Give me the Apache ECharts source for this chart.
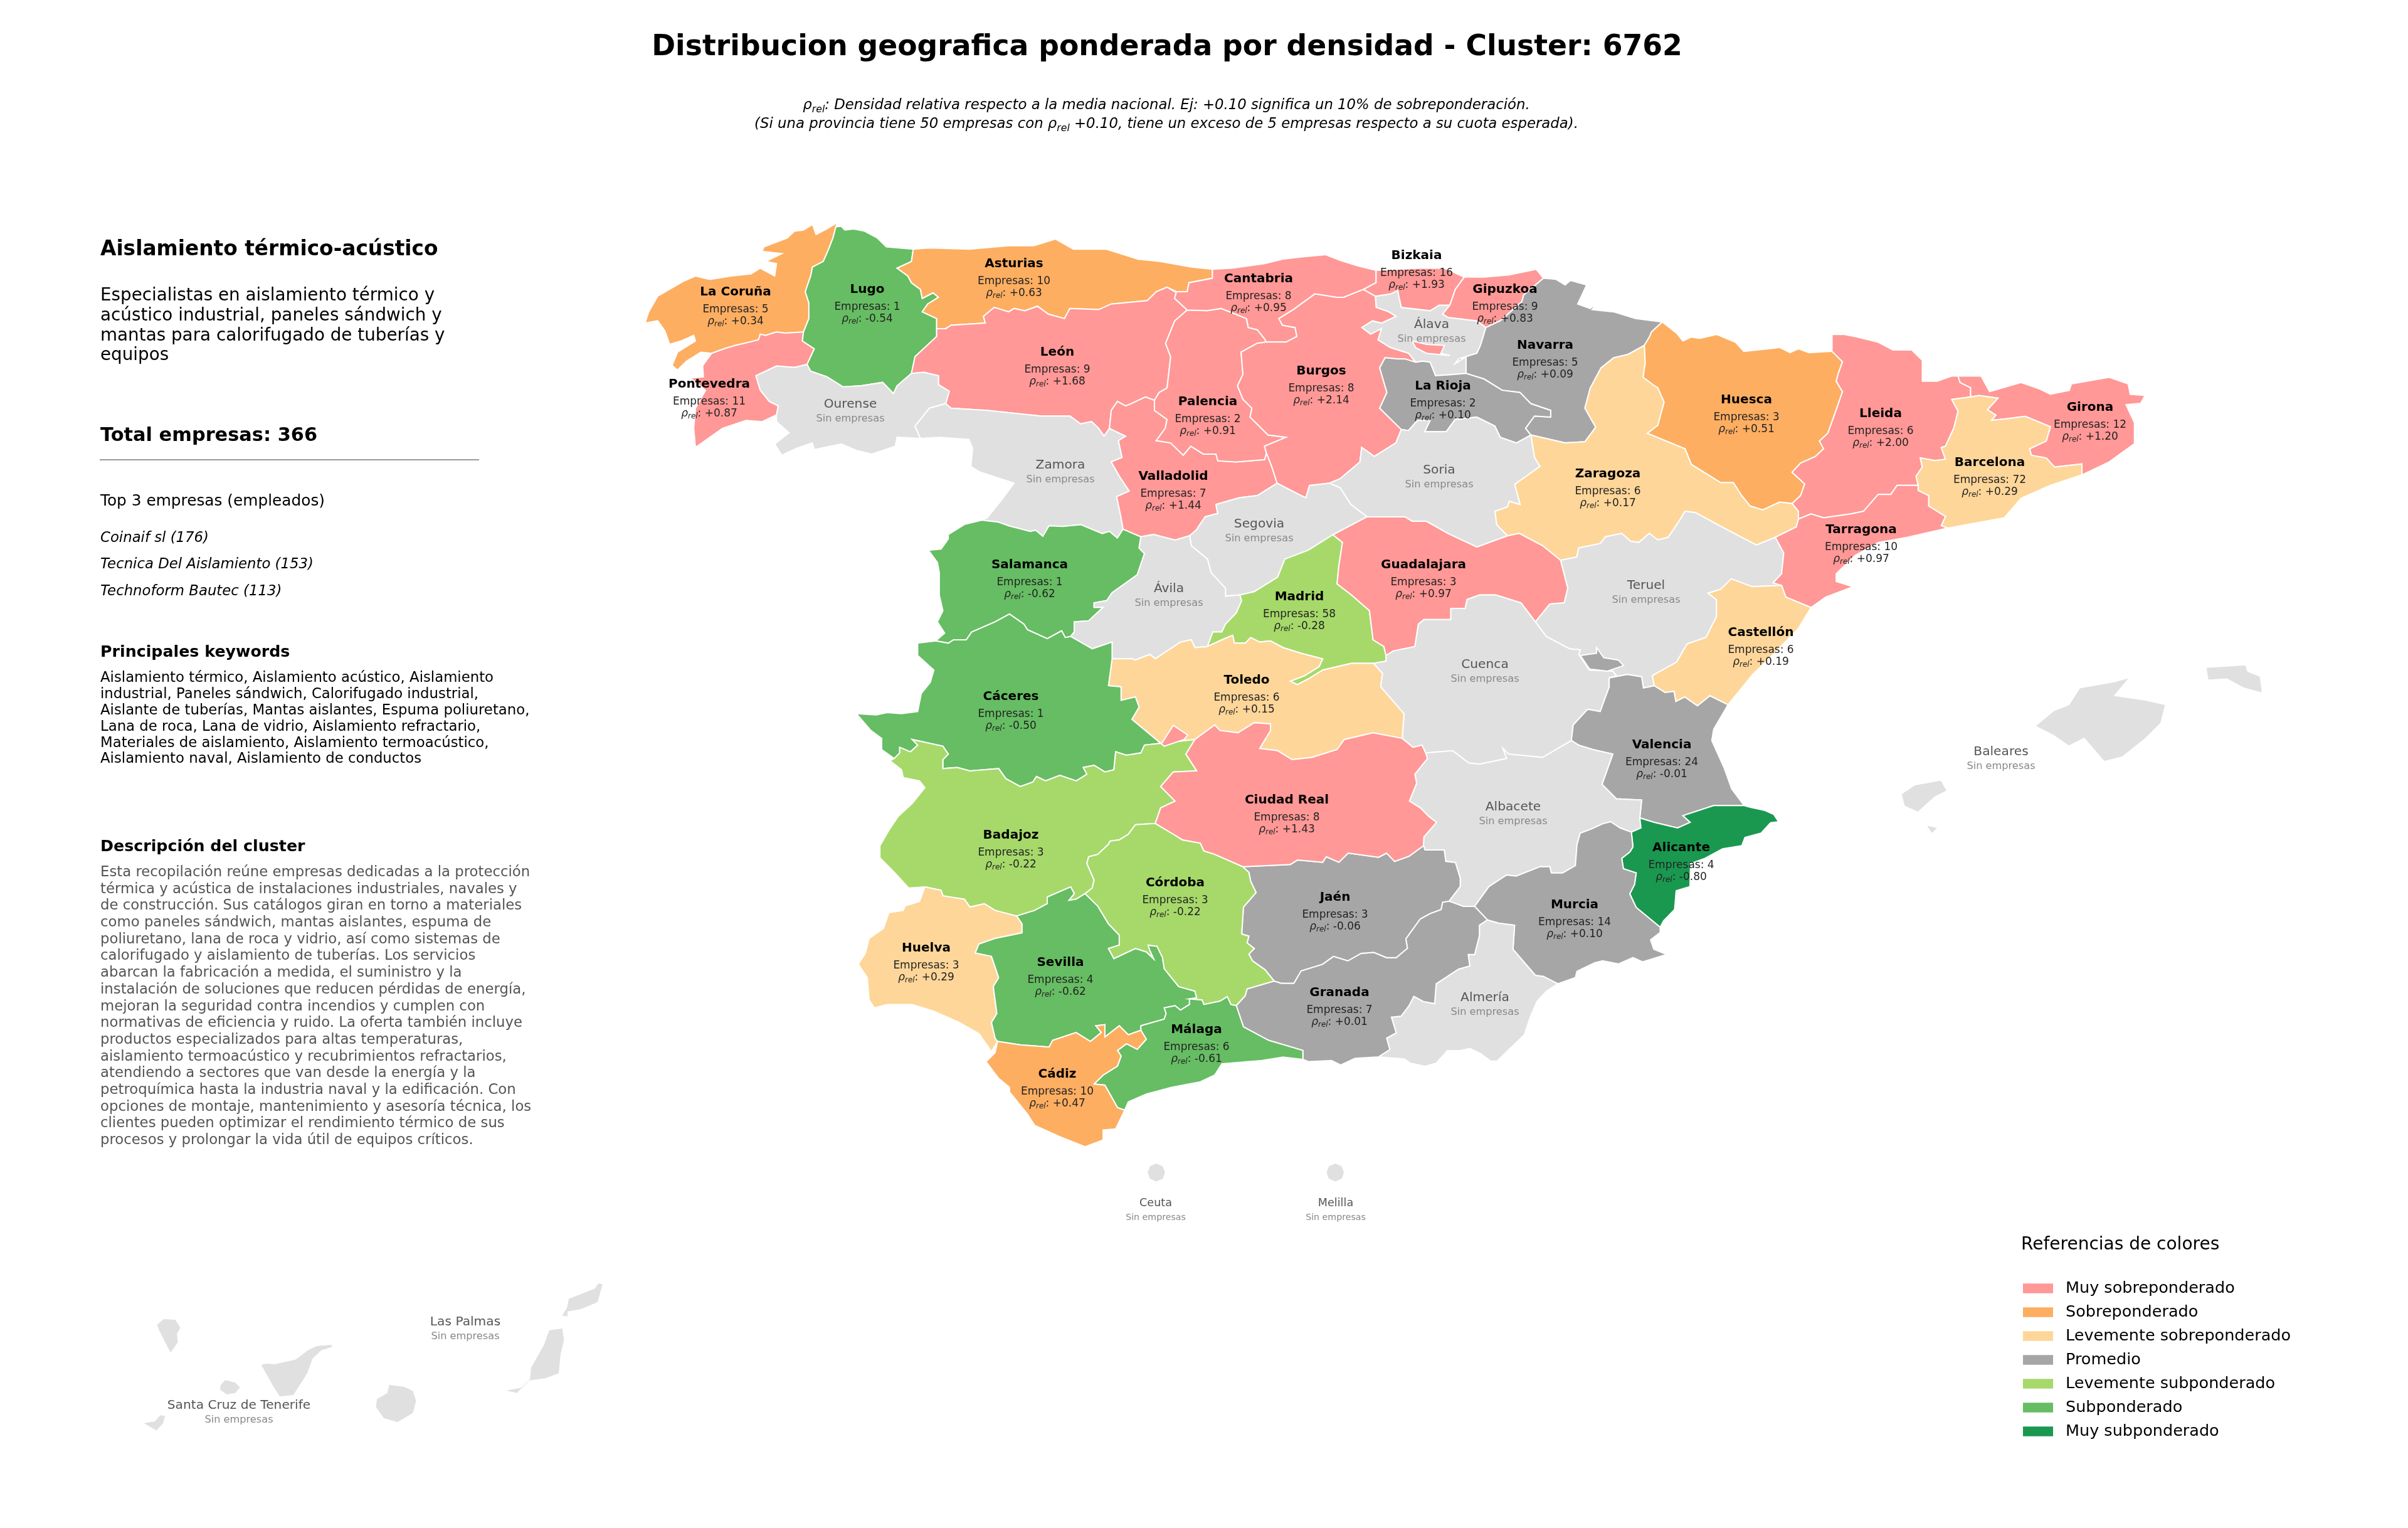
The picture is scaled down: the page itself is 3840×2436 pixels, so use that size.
<!DOCTYPE html>
<html><head><meta charset="utf-8">
<style>html,body{margin:0;padding:0;background:#fff}#c{width:3840px;height:2436px}</style>
<script src="https://cdn.jsdelivr.net/npm/echarts@6/dist/echarts.min.js"></script>
</head><body><div id="c"></div>
<script>
// ---------- DATA ----------
const provincias = ['La Coruña','Lugo','Asturias','Pontevedra','León','Cantabria','Bizkaia','Gipuzkoa','Navarra','Palencia','La Rioja','Huesca','Lleida','Girona','Barcelona','Zaragoza','Valladolid','Tarragona','Castellón','Salamanca','Madrid','Guadalajara','Cáceres','Toledo','Badajoz','Córdoba','Jaén','Huelva','Sevilla','Alicante','Murcia','Granada','Málaga','Cádiz','Ciudad Real','Valencia','Burgos'];
const empresas   = [5,1,10,11,9,8,16,9,5,2,2,3,6,12,72,6,7,10,6,1,58,3,1,6,3,3,3,3,4,4,14,7,6,10,8,24,8];
const rhoRel     = [0.34,-0.54,0.63,0.87,1.68,0.95,1.93,0.83,0.09,0.91,0.10,0.51,2.00,1.20,0.29,0.17,1.44,0.97,0.19,-0.62,-0.28,0.97,-0.50,0.15,-0.22,-0.22,-0.06,0.29,-0.62,-0.80,0.10,0.01,-0.61,0.47,1.43,-0.01,2.14];
const sinEmpresas = ['Ourense','Zamora','Segovia','Soria','Álava','Ávila','Teruel','Cuenca','Albacete','Almería','Baleares','Ceuta','Melilla','Las Palmas','Santa Cruz de Tenerife'];
const categorias = ['Muy subponderado','Subponderado','Levemente subponderado','Promedio','Levemente sobreponderado','Sobreponderado','Muy sobreponderado'];
const coloresCategoria = ['#1a9850','#66bd63','#a6d96a','#a6a6a6','#fed699','#fdae61','#ff9896'];
const tituloPrincipal = 'Distribucion geografica ponderada por densidad - Cluster: 6762';
const clusterNombre = 'Aislamiento térmico-acústico';
const clusterResumen = ['Especialistas en aislamiento térmico y','acústico industrial, paneles sándwich y','mantas para calorifugado de tuberías y','equipos'];
const totalTexto = 'Total empresas: 366';
const topEmpresas = ['Coinaif sl (176)','Tecnica Del Aislamiento (153)','Technoform Bautec (113)'];
const keywords = ['Aislamiento térmico, Aislamiento acústico, Aislamiento','industrial, Paneles sándwich, Calorifugado industrial,','Aislante de tuberías, Mantas aislantes, Espuma poliuretano,','Lana de roca, Lana de vidrio, Aislamiento refractario,','Materiales de aislamiento, Aislamiento termoacústico,','Aislamiento naval, Aislamiento de conductos'];
const descripcion = ['Esta recopilación reúne empresas dedicadas a la protección','térmica y acústica de instalaciones industriales, navales y','de construcción. Sus catálogos giran en torno a materiales','como paneles sándwich, mantas aislantes, espuma de','poliuretano, lana de roca y vidrio, así como sistemas de','calorifugado y aislamiento de tuberías. Los servicios','abarcan la fabricación a medida, el suministro y la','instalación de soluciones que reducen pérdidas de energía,','mejoran la seguridad contra incendios y cumplen con','normativas de eficiencia y ruido. La oferta también incluye','productos especializados para altas temperaturas,','aislamiento termoacústico y recubrimientos refractarios,','atendiendo a sectores que van desde la energía y la','petroquímica hasta la industria naval y la edificación. Con','opciones de montaje, mantenimiento y asesoría técnica, los','clientes pueden optimizar el rendimiento térmico de sus','procesos y prolongar la vida útil de equipos críticos.'];

// ---------- MAP GEOMETRY (base map outlines, traced in tracing frames) ----------
const FRAMES = {1:[1000,340,1.742,2.8],2:[1850,340,1.742,2.8],3:[2600,500,1.493,2.412],4:[1340,820,1.742,2.8],5:[2150,820,1.742,2.8],6:[1340,1330,1.742,2.8],7:[2150,1250,1.96,3],8:[140,2020,1.782,3],9:[0,0,0.4077,0.4077]};
const ARCS = {
LC_LU:[1,[580,60,572,110,560,160,545,215,515,240,510,280,495,350,505,400,505,470,490,530]],
LC_PO:[1,[490,530,440,535,415,530,385,545,370,540,365,565,340,575,300,590,270,605,235,625]],
LC_C:[1,[235,625,205,620,165,660,140,700,125,680,140,620,190,570,185,545,150,570,118,585,105,525,85,480,50,490,60,440,85,370,155,305,190,280,230,295,290,280,345,270,370,245,410,280,415,225,385,215,430,180,375,170,380,150,445,110,465,80,490,75,515,50,525,95,555,70,585,40,580,60]],
PO_C:[1,[235,625,210,680,212,730,175,735,218,790,190,870,185,960,190,1045,265,960,330,925,375,930,415,900]],
PO_OU:[1,[415,900,420,860,395,840,370,790,358,725,415,682,465,688,500,675]],
PO_LU:[1,[500,675,520,605,487,570,490,530]],
LU_OU:[1,[500,675,510,705,555,730,600,775,650,770,710,755,740,805,750,770,790,715]],
LU_LE:[1,[790,715,800,640,860,550,860,515]],
LU_AS:[1,[860,515,860,470,820,440,835,405,865,375,850,355,820,380,815,340,790,310,780,280,750,245,790,215,795,160]],
LU_C:[1,[795,160,720,150,695,110,660,80,630,70,605,75,595,58,580,60]],
AS_C:[1,[795,160,840,155,950,160,1060,145,1130,145,1190,115,1240,160,1330,160,1380,185,1420,205,1480,215,1568,240,1626,250]],
AS_CA:[1,[1626,250,1626,290,1561,310,1556,350,1521,350,1500,330]],
AS_LE:[1,[1500,330,1470,350,1445,390,1345,405,1310,430,1230,425,1215,470,1170,450,1140,415,1105,435,1075,425,1060,440,1020,420,990,460,995,490,900,500,885,515,860,515]],
LE_CA:[1,[1500,330,1526,350,1521,380,1556,432]],
LE_PA:[1,[1556,432,1521,481,1496,581,1510,640,1500,780,1478,800,1465,835]],
LE_VA:[1,[1465,835,1440,820,1400,850,1385,860,1362,840,1345,880,1340,960]],
LE_ZA:[1,[1340,960,1325,995,1310,960,1290,930,1260,940,1230,905,1150,905,1090,895,1000,880,900,870,885,850]],
LE_OU:[1,[885,850,895,795,865,765,865,725,825,710,790,715]],
OU_ZA:[1,[815,1005,800,950,810,930,840,870,885,850]],
OU_S:[1,[415,900,415,930,450,980,410,1030,430,1080,470,1050,515,1025,520,1055,595,1030,640,1060,680,1075,745,1040,750,1000,815,1005]],
ZA_W:[1,[815,1005,870,1000,950,1010,960,1050,955,1130,980,1155,1075,1205,1040,1280,1000,1360,985,1370]],
ZA_SA:[1,[985,1370,1030,1378,1060,1395,1120,1420,1135,1415,1155,1442,1172,1395,1210,1398,1260,1390,1305,1420,1320,1430,1340,1420,1362,1450,1378,1410]],
ZA_VA:[1,[1378,1410,1370,1340,1360,1265,1395,1240,1370,1180,1345,1110,1375,1090,1365,1015,1385,995,1340,960]],
VA_PA:[1,[1465,835,1465,880,1500,920,1495,960,1470,1015,1510,1025,1545,1080,1566,1040,1601,1075,1636,1075,1641,1105,1691,1110,1771,1100,1776,1070]],
VA_BU:[2,[295,1070,310,1130,325,1205]],
VA_SG:[2,[325,1205,270,1260,220,1270,155,1300,160,1340,125,1355,100,1415,82,1439]],
VA_AV:[4,[970,95,930,115,870,90,835,100]],
SA_VA:[4,[786,66,835,100]],
PA_CA:[2,[75,432,130,435,170,425,240,470,245,510,270,520,290,560,295,575]],
PA_BU:[2,[295,575,270,580,225,620,230,720,215,770,230,830,255,870,250,910,300,990,350,1000,290,1040,295,1070]],
CA_C:[2,[145,250,200,245,290,225,340,205,390,195,460,185,500,210,550,235,600,255]],
CA_BI:[2,[600,255,600,310,565,340]],
CA_BU:[2,[565,340,510,375,490,375,430,360,370,430,330,470,340,500,375,510,380,550,350,575,295,575]],
BU_BI:[2,[565,340,598,370]],
BU_AL:[2,[598,370,600,420,635,440,655,460,615,490,590,480,560,510,585,540,615,515,605,565,640,600,690,625,710,665]],
AL_BI:[2,[598,370,640,360,660,345,670,420,750,435,775,410,805,410]],
AL_GI:[2,[805,410,785,450,800,465,880,480,905,510]],
AL_NA:[2,[905,510,890,590,880,625,830,650,820,670,850,640,850,715]],
BI_C:[2,[600,255,660,250,720,245,790,245,845,285]],
BI_GI:[2,[845,285,820,340,805,410]],
GU_C:[2,[845,285,900,285,970,275,1045,250,1065,290]],
GU_NA:[2,[1065,290,1010,365,1005,395,945,480,905,510]],
NA_N:[2,[1065,290,1100,295,1125,320,1140,300,1185,320,1160,405,1195,425,1215,395,1200,430,1260,440,1320,470,1395,485]],
NA_HU:[2,[1395,485,1365,530,1360,550,1345,590]],
NA_ZA:[2,[1345,590,1300,630,1260,645,1225,690,1195,780,1180,870,1210,955,1180,1020,1125,1025,1030,990]],
NA_RI:[2,[1030,990,1015,960,1040,905,1085,910,1085,880,1030,850,1000,800,950,790,900,740,850,715]],
RI_BU:[2,[670,965,610,870,630,800,610,690,625,645,660,650,680,650,710,665]],
RI_AL:[2,[710,665,730,660,750,665,765,725,810,720,850,715]],
RI_SO:[2,[1030,990,990,1025,945,1000,930,950,880,910,820,920,795,975,735,975,750,925,715,925,690,970,670,965]],
BU_SO:[2,[670,965,655,1025,595,1085,560,1045,555,1110,500,1185,470,1205]],
BU_SG:[2,[470,1205,415,1215,405,1270,385,1255,325,1205]],
SO_ZG:[2,[1030,990,1040,1090,1055,1130,985,1210,1000,1300,970,1285,965,1310,930,1330,935,1390,965,1440]],
SO_GU:[2,[965,1440,880,1490,800,1430,740,1375,700,1375,680,1355,575,1355]],
SO_SG:[2,[575,1355,530,1300,500,1225,470,1205]],
SG_GU:[2,[575,1355,480,1435]],
SG_MA:[4,[1368,91,1300,160,1235,200,1215,280,1150,345,1110,360]],
SG_AV:[4,[1110,360,1070,365,1070,330,1030,260,1020,200,975,140,970,95]],
AV_MA:[4,[1110,360,1115,385,1100,440,1070,490,1060,525,1035,525,1020,590]],
AV_TO:[4,[1020,590,985,595,975,560,945,570,875,645,860,625,820,650,810,645,755,645]],
AV_CC:[4,[755,645,755,570,700,600,640,545]],
SA_AV:[4,[835,100,830,150,845,175,825,270,755,350,740,385,705,395,705,415,730,415,690,475,650,480,650,525,640,545]],
CC_SA:[4,[265,565,300,575,315,560,350,560,365,525,430,480,470,445,510,490,520,515,575,555,615,520,625,550,640,545]],
SA_W:[4,[265,565,290,530,270,480,285,430,275,360,275,260,270,215,245,160,280,155,300,110,300,90,345,45,393,26]],
MA_GU:[4,[1368,91,1395,125,1385,230,1380,310,1420,360,1470,430,1480,560,1510,590,1516,630]],
MA_CU:[4,[1516,630,1516,655,1481,665]],
TO_MA:[4,[1020,590,1060,560,1090,540,1095,575,1125,575,1140,550,1165,570,1195,565,1230,595,1280,620,1340,645,1330,680,1290,720,1250,745,1270,760,1300,735,1340,695,1420,665,1481,665]],
GU_CU:[5,[520,480,480,395,410,360,365,360,330,380,325,420,285,420,285,470,210,470,195,490,185,590,125,610,105,630]],
GU_TE:[5,[590,205,610,330,600,395,560,400,520,480]],
ZG_GU:[5,[590,205,540,140,475,85,442,96]],
ZG_TE:[3,[345,860,300,890,235,835,200,805,155,765,130,760,115,800,90,860,65,870,45,845,20,880,0,875],5,[760,85,715,100,700,130,640,150,635,190,590,205]],
ZG_LL:[3,[385,730,400,760,400,790]],
ZG_TA:[3,[400,790,395,820,345,860]],
TE_TA:[3,[345,860,365,920,360,1000,340,1035,360,1045]],
TE_CS:[3,[360,1045,290,1050,240,1020,215,1060,185,1075,205,1100,205,1165,180,1245,135,1270,110,1340],5,[845,720,850,765]],
TE_VA:[5,[850,765,820,775,815,725,775,715,725,730]],
CS_VA:[5,[1055,850,1005,810,970,855,935,815,910,835,905,790,880,795,850,765]],
TE_CU:[5,[725,730,745,720,735,700,670,695,640,625,645,605,615,600,550,545,520,480]],
CU_VC:[5,[725,730,725,770,700,880,665,870,625,940,620,1010]],
CU_TO:[5,[70,665,95,710,90,770,155,890,150,1000]],
CU_CR:[5,[150,1000,180,1040,205,1030,215,1065]],
CU_AB:[5,[215,1065,290,1055,335,1110,365,1115,440,1090,430,1045,445,1070,540,1085,620,1010]],
VC_C:[5,[1055,850,1015,960,1010,1010,1045,1135,1065,1225,1100,1300]],
VC_AC:[5,[1100,1300,1015,1300,930,1345,950,1375,915,1400,850,1375,810,1355]],
VC_AB:[5,[810,1355,815,1275,745,1270,705,1205,735,1070,680,1050,640,1030,620,1010]],
AB_CR:[5,[215,1065,220,1090,185,1160,190,1200,170,1280,200,1310,225,1350,245,1375,210,1440,209,1479]],
AB_JA:[7,[235,295,240,315,300,315,305,370,335,375,350,450,350,490,315,560]],
AB_GR:[7,[315,560,360,585,395,585]],
AB_MU:[7,[395,585,440,490,495,435,525,440,600,395,630,395,635,425,670,425,710,390,715,290,725,235,760,215,795,190,820,180,850,210,885,230]],
AB_AC:[7,[885,230,915,210,910,165]],
AC_MU:[7,[885,230,890,300,880,325,855,355,860,405,900,425,895,480,880,525,900,590,975,685]],
AC_C:[7,[975,685,985,655,1020,600,1025,510,1068,490,1070,380,1115,355,1170,310,1230,295,1240,255,1290,235,1320,185,1345,180,1330,145,1300,125,1255,110,1240,100]],
MU_GR:[7,[395,585,435,650]],
MU_AL:[7,[435,650,470,665,520,675,515,790,585,915,610,920,655,955]],
MU_C:[7,[655,955,710,925,715,895,770,855,795,845,845,860,890,830,920,850,995,815,955,790,945,745,975,710,975,685]],
GR_AM:[7,[94,1305,130,1270,120,1215,150,1190,135,1115,165,1110,190,1060,205,1015,235,1040,270,1050,275,955,345,885,380,870,375,815,395,815,410,725,410,675,435,650]],
AM_C:[7,[94,1305,175,1315,195,1335,240,1350,275,1335,310,1275,350,1275,380,1265,415,1290,445,1325,465,1325,495,1280,550,1200,570,1110,590,1040,620,990,655,955]],
JA_CR:[7,[235,295,190,345,145,370,120,330,95,350,0,330],6,[1385,125,1350,100,1340,125,1270,115,1250,135,1118,145]],
JA_CO:[6,[1118,145,1135,170,1140,210,1155,260,1120,325,1115,445,1135,455,1130,485,1150,510,1135,535,1145,565,1180,605,1205,655]],
JA_GR:[6,[1205,655,1225,665,1260,665,1280,610,1340,580,1370,545,1410,565],7,[40,810,80,805,120,830,150,830,185,785,180,740,225,645,255,620,290,600,295,565,315,560]],
CO_GR:[6,[1100,765,1125,720,1130,690,1205,655]],
CO_MG:[6,[970,735,1005,740,1010,760,1055,745,1075,725,1085,760,1100,765]],
GR_MG:[6,[1100,765,1120,860,1190,920,1285,965,1285,1005]],
GR_C:[6,[1285,1005,1300,1015,1365,1010,1390,1030,1430,1000,1495,995]],
MG_C:[6,[1285,1005,1230,995,1170,1010,1060,1025,1040,1075,1000,1105,920,1130,850,1160,800,1195,790,1232]],
CD_C:[6,[437,925,430,975,405,1015,440,1090,470,1130,470,1150,520,1250,540,1300,610,1350,680,1395,730,1365,730,1320,765,1315,790,1232]],
CD_MG:[6,[790,1232,770,1220,735,1120,705,1115,730,1075,770,1035,780,990,770,965,795,935,825,960,850,915,835,875]],
SE_CA:[6,[437,925,500,940,580,950,590,920,655,885,695,925,725,885,710,855,735,850,735,905,775,855,800,895,835,875]],
SE_MG:[6,[835,875,835,855,900,825,905,800,900,775,930,765,945,785,970,760,970,735]],
CO_SE:[6,[680,265,715,320,745,400,775,450,775,495,745,510,760,555,820,510,850,525,870,555,860,520,855,495,880,500,895,550,900,600,940,680,985,700,990,730,970,735]],
SE_HV:[6,[490,365,505,400,505,440,475,450,430,465,385,490,375,530,420,545,440,640,425,680,435,800,420,840,430,910,437,925]],
HV_C:[6,[235,235,220,300,180,320,175,340,135,350,120,420,80,465,70,530,50,580,75,640,80,740,95,775,130,760,200,760,260,790,330,840,385,890,420,970,437,925]],
BA_HU:[6,[235,235,280,250,285,275,345,290,360,325,400,310,430,340,490,365]],
BA_SE:[6,[490,365,540,340,575,310,575,280,640,235,650,265,635,295,655,290,680,265]],
BA_CO:[6,[680,265,700,240,705,205,685,130,690,100,715,90,745,45,750,30,775,25,800,0],4,[820,1385,875,1380]],
CO_CR:[4,[875,1380,925,1428],6,[950,25,1000,40,1010,75,1040,90,1118,145]],
BA_CR:[4,[985,1005,960,1070,990,1145,925,1150,890,1215,930,1280,890,1310,875,1380]],
TO_CR:[4,[985,1005,1040,940,1055,965,1105,975,1150,930,1195,935,1195,965,1165,1045,1215,1055,1255,1095,1310,1085,1380,1050,1400,1005,1480,975,1561,1000]],
BA_TO:[4,[985,1005,890,1022]],
CC_TO:[4,[755,645,745,765,780,770,780,830,820,815,830,860,810,915,890,1022]],
BA_CC:[4,[890,1022,845,1030,835,1065,795,1075,765,1060,760,1140,735,1150,705,1120,675,1130,685,1160,655,1190,610,1165,570,1190,545,1170,535,1195,500,1215,460,1180,440,1135,360,1145,325,1130,285,1135,285,1095,300,1070,285,1035,200,1005,215,1030,195,1060,165,1040,165,1065,150,1090]],
CC_W:[4,[150,1090,115,1050,115,1000,85,965,45,890,100,895,130,885,170,890,215,880,225,800,250,750,260,695,215,630,215,575,265,565]],
BA_W:[4,[150,1090,138,1100,170,1140,175,1175,220,1190,235,1220,200,1290,160,1350,135,1410,110,1480],6,[110,105,150,170,190,240,235,235]],
HU_N:[3,[76,31,110,75,125,105,145,90,165,95,205,80,250,110,270,145,330,135,355,130,380,150,400,135,425,150,480,145]],
HU_LL:[3,[480,145,505,185,495,230,490,260,505,300,490,370,470,460,450,490,460,520,440,550,405,575,385,610,415,655,405,700,385,730]],
HU_ZA:[3,[385,730,355,725,315,755,285,740,265,700,245,650,215,650,145,580,130,520,40,460,65,430,80,340,65,285,55,275,30,245,35,190,33,123]],
LL_N:[3,[480,145,480,80,510,80,540,90,590,110,625,140,670,140,695,180,695,260,730,260,765,240,780,240]],
LL_GI:[3,[780,240,785,265,810,285,810,320]],
LL_BA:[3,[810,320,765,330,780,375,770,440,750,510,740,515,750,560,725,565,690,555,695,590,680,625,685,660]],
LL_TA:[3,[685,660,635,660,620,695,590,695,555,760,525,770,460,785,430,770,400,790]],
GI_N:[3,[780,240,835,240,855,300,930,265,975,290,1000,310,1045,295,1050,270,1140,245,1185,270,1190,310,1225,315,1215,345,1180,350,1200,420,1200,500,1140,570,1075,620]],
GI_BA:[3,[1075,620,1075,578,1010,590,990,555,955,545,950,520,990,490,1000,435,940,395,890,405,860,410,870,390,850,370,875,325,830,315,810,320]],
BA_C:[3,[1075,620,1000,660,930,710,890,785,755,825]],
TA_BA:[3,[685,660,685,680,710,700,710,740,750,780,740,815,755,825]],
TA_C:[3,[755,825,660,860,590,880,535,930,490,1000,490,1030,530,1050,465,1090,430,1130]],
TA_CS:[3,[430,1130,370,1090,360,1045]],
CS_C:[3,[430,1130,400,1210,340,1310,290,1390,230,1505]]
};
const RINGS = {
'La Coruña':['LC_LU','LC_PO','LC_C'],
'Pontevedra':['LC_PO','PO_C','PO_OU','PO_LU'],
'Lugo':['LC_LU','-PO_LU','LU_OU','LU_LE','LU_AS','LU_C'],
'Asturias':['LU_AS','AS_C','AS_CA','AS_LE'],
'León':['LE_CA','LE_PA','LE_VA','LE_ZA','LE_OU','LU_LE','-AS_LE'],
'Ourense':['-PO_OU','OU_S','OU_ZA','LE_OU','-LU_OU'],
'Zamora':['-OU_ZA','ZA_W','ZA_SA','ZA_VA','LE_ZA'],
'Salamanca':['SA_W','ZA_SA','SA_VA','SA_AV','-CC_SA'],
'Valladolid':['-LE_VA','VA_PA','VA_BU','VA_SG','VA_AV','-SA_VA','ZA_VA'],
'Palencia':['-LE_PA','PA_CA','PA_BU','-VA_PA'],
'Cantabria':['-AS_CA','CA_C','CA_BI','CA_BU','-PA_CA','-LE_CA'],
'Álava':['AL_BI','AL_GI','AL_NA','-RI_AL','-BU_AL'],
'Burgos':['-CA_BU','BU_BI','BU_AL','-RI_BU','BU_SO','BU_SG','-VA_BU','-PA_BU'],
'Bizkaia':['-CA_BI','BI_C','BI_GI','-AL_BI','-BU_BI'],
'Gipuzkoa':['GU_C','GU_NA','-AL_GI','-BI_GI'],
'Navarra':['-GU_NA','NA_N','NA_HU','NA_ZA','NA_RI','-AL_NA'],
'La Rioja':['RI_BU','RI_AL','-NA_RI','RI_SO'],
'Huesca':['HU_N','HU_LL','HU_ZA','-NA_HU'],
'Zaragoza':['-NA_ZA','-HU_ZA','ZG_LL','ZG_TA','ZG_TE','ZG_GU','-SO_GU_Z'],
'Soria':['-RI_SO','SO_ZG','SO_GU','SO_SG','-BU_SO'],
'Segovia':['-VA_SG','-BU_SG','-SO_SG','SG_GU','SG_MA','SG_AV'],
'Ávila':['-VA_AV','-SG_AV','AV_MA','AV_TO','AV_CC','-SA_AV'],
'Madrid':['-SG_MA','MA_GU','MA_CU','-TO_MA','-AV_MA'],
'Guadalajara':['-SG_GU','-SO_GU','-ZG_GU','GU_TE','GU_CU','-MA_GU'],
'Teruel':['-GU_TE','-ZG_TE','TE_TA','TE_CS','TE_VA','TE_CU'],
'Lleida':['LL_N','LL_GI','LL_BA','LL_TA','-ZG_LL','-HU_LL'],
'Girona':['GI_N','GI_BA','-LL_GI'],
'Barcelona':['-GI_BA','BA_C','-TA_BA','-LL_BA'],
'Tarragona':['-LL_TA','TA_BA','TA_C','TA_CS','-TE_TA','-ZG_TA'],
'Castellón':['-TA_CS','CS_C','CS_VA','-TE_CS'],
'Cuenca':['TE_CU','GU_CU','MA_CU','CU_TO','CU_CR','CU_AB','-CU_VC'],
'Valencia':['-TE_VA','-CS_VA','VC_C','VC_AC','VC_AB','-CU_VC'],
'Albacete':['-CU_AB','AB_CR','AB_JA','AB_GR','AB_MU','AB_AC','VC_AB'],
'Alicante':['-AB_AC','AC_MU','AC_C','VC_AC'],
'Murcia':['-AB_MU','MU_GR','MU_AL','MU_C','-AC_MU'],
'Almería':['-MU_AL','-GR_AM','AM_C'],
'Granada':['-AB_GR','-JA_GR','-CO_GR','GR_MG','GR_C','GR_AM','-MU_GR'],
'Jaén':['-AB_JA','JA_CR','JA_CO','JA_GR'],
'Toledo':['TO_MA','CU_TO','-TO_CR','BA_TO','-CC_TO','-AV_TO'],
'Cáceres':['CC_W','CC_SA','-AV_CC','CC_TO','BA_CC'],
'Badajoz':['BA_TO','BA_CC','BA_W','BA_HU','BA_SE','BA_CO','-BA_CR'],
'Ciudad Real':['-AB_CR','-CU_CR','-TO_CR','BA_CR','CO_CR','-JA_CR'],
'Huelva':['-BA_HU','HV_C','-SE_HV'],
'Sevilla':['SE_HV','SE_CA','SE_MG','-CO_SE','-BA_SE'],
'Córdoba':['BA_CO','CO_CR','JA_CO','-CO_GR','-CO_MG','-CO_SE'],
'Málaga':['CO_MG','GR_MG','MG_C','CD_MG','SE_MG'],
'Cádiz':['CD_C','CD_MG','-SE_CA']
};
ARCS.SO_GU_Z = ARCS.SO_ZG;
const EXTRA = {
'Burgos':[[2,[700,570,740,585,790,590,780,625,805,635,740,625,710,600]]],
'Valencia':[[5,[645,630,690,620,690,595,710,640,750,650,765,675,720,700,670,690]]],
'Ciudad Real':[[4,[892,1025,925,942,965,985,955,1005,900,1035]]]
};
const ISLANDS = {
'Baleares':[[9,[1323,472,1335,462,1345,458,1352,447,1375,443,1385,440,1375,452,1395,455,1408,458,1405,470,1395,480,1380,492,1368,495,1355,480,1345,485,1335,478]],[3,[1370,1360,1420,1355,1465,1350,1470,1375,1500,1395,1505,1460,1460,1440,1420,1405,1375,1410]],[9,[1236,516,1245,510,1262,507,1266,514,1258,518,1247,528,1238,524]],[9,[1252,536,1260,538,1256,542]]],
'Ceuta':[[6,[852,1510,859,1480,878,1467,897,1480,904,1510,897,1540,878,1553,859,1540]]],
'Melilla':[[6,[1349,1510,1356,1480,1375,1467,1394,1480,1401,1510,1394,1540,1375,1553,1356,1540]]],
'Santa Cruz de Tenerife':[[8,[195,275,215,245,250,250,265,290,255,320,258,360,235,415,215,350,200,300]],[8,[155,745,190,735,205,705,222,710,215,750,195,785,175,765]],[8,[375,565,390,537,420,550,435,575,420,605,395,612,375,590]],[8,[490,465,510,458,530,462,590,440,625,395,650,375,695,368,695,385,665,400,640,440,625,510,585,615,545,622,525,570,505,510]]],
'Las Palmas':[[8,[855,560,900,570,925,590,935,640,925,700,880,745,840,725,817,670,820,630,850,600]],[8,[1310,300,1350,290,1355,350,1345,420,1340,510,1300,535,1255,545,1220,605,1180,590,1230,575,1255,535,1258,480,1275,430,1295,370]],[8,[1345,235,1360,195,1365,150,1410,120,1440,100,1450,75,1465,80,1450,170,1400,205,1365,215,1365,240]]]
};
// label anchors for the province names (x, y of the name's centre)
const ANCHORS = {'La Coruña':[1173,464],'Lugo':[1383,460],'Asturias':[1617,419],'Pontevedra':[1131,611],'Ourense':[1356,644],'León':[1686,560],'Zamora':[1691,741],'Cantabria':[2007,443],'Bizkaia':[2259,406],'Gipuzkoa':[2400,460],'Álava':[2283,517],'Navarra':[2464,549],'Burgos':[2107,590],'Palencia':[1926,639],'La Rioja':[2301,614],'Soria':[2295,749],'Zaragoza':[2564,754],'Segovia':[2008,835],'Valladolid':[1871,758],'Huesca':[2785,636],'Lleida':[2999,658],'Girona':[3333,648],'Barcelona':[3173,736],'Tarragona':[2968,843],'Castellón':[2808,1007],'Salamanca':[1642,899],'Ávila':[1864,938],'Madrid':[2072,950],'Cáceres':[1612,1109],'Toledo':[1988,1083],'Ciudad Real':[2052,1274],'Badajoz':[1612,1330],'Guadalajara':[2270,899],'Teruel':[2625,933],'Cuenca':[2368,1059],'Valencia':[2650,1186],'Albacete':[2413,1286],'Córdoba':[1874,1406],'Jaén':[2129,1429],'Huelva':[1477,1510],'Sevilla':[1691,1533],'Granada':[2136,1581],'Málaga':[1908,1640],'Cádiz':[1686,1711],'Alicante':[2681,1350],'Murcia':[2511,1441],'Almería':[2368,1590],'Ceuta':[1843,1917],'Melilla':[2130,1917],'Baleares':[3191,1198],'Las Palmas':[742,2107],'Santa Cruz de Tenerife':[381,2240]};
const DRAW_ORDER = ['La Coruña','Pontevedra','Lugo','Asturias','León','Ourense','Zamora','Salamanca','Valladolid','Palencia','Cantabria','Álava','Burgos','Bizkaia','Gipuzkoa','Navarra','La Rioja','Huesca','Zaragoza','Soria','Segovia','Ávila','Madrid','Guadalajara','Teruel','Lleida','Girona','Barcelona','Tarragona','Castellón','Cuenca','Valencia','Albacete','Alicante','Murcia','Almería','Granada','Jaén','Toledo','Cáceres','Badajoz','Ciudad Real','Huelva','Sevilla','Córdoba','Málaga','Cádiz','Baleares','Ceuta','Melilla','Santa Cruz de Tenerife','Las Palmas'];

// ---------- BUILD GEOJSON ----------
const full = (f,x,y)=>{const F=FRAMES[f];return [F[0]+x/F[2],F[1]+y/F[3]];};
function piecesToPts(pieces){const out=[];for(let i=0;i<pieces.length;i+=2){const f=pieces[i],a=pieces[i+1];for(let j=0;j<a.length;j+=2)out.push(full(f,a[j],a[j+1]));}return out;}
const arcPts={};const nodes=[];
function snap(p){for(const n of nodes){if(Math.hypot(n[0]-p[0],n[1]-p[1])<7)return n.slice();}nodes.push(p.slice());return p;}
for(const k in ARCS){const pts=piecesToPts(ARCS[k]);pts[0]=snap(pts[0]);pts[pts.length-1]=snap(pts[pts.length-1]);arcPts[k]=pts;}
function ringOf(list){const r=[];for(const nm of list){const rev=nm[0]==='-';const pts=arcPts[rev?nm.slice(1):nm];const seq=rev?pts.slice().reverse():pts;for(const p of seq){const l=r[r.length-1];if(!l||l[0]!==p[0]||l[1]!==p[1])r.push(p);}}return r;}
const closeGeo=r=>{const c=r.map(p=>[p[0],-p[1]]);c.push(c[0].slice());return [c];};
const features=DRAW_ORDER.map(name=>{
  const polys=[];
  if(RINGS[name])polys.push(closeGeo(ringOf(RINGS[name])));
  (EXTRA[name]||[]).concat(ISLANDS[name]||[]).forEach(p=>polys.push(closeGeo(piecesToPts(p))));
  const a=ANCHORS[name];const offs=sinEmpresas.includes(name)?9:21;
  return {type:'Feature',properties:{name,cp:[a[0],-(a[1]+offs)]},geometry:{type:'MultiPolygon',coordinates:polys}};
});
echarts.registerMap('espana',{type:'FeatureCollection',features});

// ---------- CHART ----------
const FF='"DejaVu Sans"';
const seriesData=provincias.map((n,i)=>({name:n,value:rhoRel[i]})).concat(sinEmpresas.map(n=>({name:n,value:'-'})));
const fmtRho=v=>(v>=0?'+':'')+v.toFixed(2);
const txt=(x,y,text,font,fill,extra)=>({type:'text',x,y,silent:true,style:Object.assign({text,font,fill,textVerticalAlign:'middle'},extra||{})});
const els=[];
const subRich={i:{fontFamily:FF,fontStyle:'italic',fontSize:22.8,lineHeight:30,color:'#000'},s:{fontFamily:FF,fontStyle:'italic',fontSize:15.7,lineHeight:30,verticalAlign:'bottom',padding:[0,0,0,0],color:'#000'}};
els.push({type:'text',x:1860,y:168,silent:true,style:{text:'{i|ρ}{s|rel}{i|: Densidad relativa respecto a la media nacional. Ej: +0.10 significa un 10% de sobreponderación.}',rich:subRich,textAlign:'center',textVerticalAlign:'middle'}});
els.push({type:'text',x:1860,y:198,silent:true,style:{text:'{i|(Si una provincia tiene 50 empresas con ρ}{s|rel}{i| +0.10, tiene un exceso de 5 empresas respecto a su cuota esperada).}',rich:subRich,textAlign:'center',textVerticalAlign:'middle'}});
const LX=160;
els.push(txt(LX,398,clusterNombre,`bold 32.8px ${FF}`,'#000'));
clusterResumen.forEach((l,i)=>els.push(txt(LX,472+i*31.7,l,`27.8px ${FF}`,'#000')));
els.push(txt(LX,695,totalTexto,`bold 30.4px ${FF}`,'#000'));
els.push({type:'rect',silent:true,shape:{x:159,y:732,width:605,height:2},style:{fill:'#999'}});
els.push(txt(LX,800,'Top 3 empresas (empleados)',`24.8px ${FF}`,'#000'));
topEmpresas.forEach((l,i)=>els.push(txt(LX,858+i*42.5,l,`italic 22.8px ${FF}`,'#000')));
els.push(txt(LX,1040,'Principales keywords',`bold 25.3px ${FF}`,'#000'));
keywords.forEach((l,i)=>els.push(txt(LX,1081+i*25.9,l,`22.8px ${FF}`,'#000')));
els.push(txt(LX,1350,'Descripción del cluster',`bold 25.3px ${FF}`,'#000'));
descripcion.forEach((l,i)=>els.push(txt(LX,1391+i*26.7,l,`22.8px ${FF}`,'#555')));
els.push(txt(3223,1985,'Referencias de colores',`28px ${FF}`,'#000'));

const th=[-0.75,-0.5,-0.1,0.1,0.3,0.75];
const pieces=[
 {lte:th[0],label:categorias[0],color:coloresCategoria[0]},
 {gt:th[0],lte:th[1],label:categorias[1],color:coloresCategoria[1]},
 {gt:th[1],lt:th[2],label:categorias[2],color:coloresCategoria[2]},
 {gte:th[2],lte:th[3],label:categorias[3],color:coloresCategoria[3]},
 {gt:th[3],lt:th[4],label:categorias[4],color:coloresCategoria[4]},
 {gte:th[4],lt:th[5],label:categorias[5],color:coloresCategoria[5]},
 {gte:th[5],label:categorias[6],color:coloresCategoria[6]}
];
const labelRich={
 n:{fontFamily:FF,fontWeight:'bold',fontSize:20,lineHeight:37,color:'#000'},
 e:{fontFamily:FF,fontSize:17,lineHeight:19,color:'#222'},
 r:{fontFamily:FF,fontStyle:'italic',fontSize:17,lineHeight:19,color:'#222'},
 s:{fontFamily:FF,fontStyle:'italic',fontSize:12,lineHeight:19,verticalAlign:'bottom',color:'#222'},
 g:{fontFamily:FF,fontSize:20.2,lineHeight:30,color:'#555'},
 h:{fontFamily:FF,fontSize:16.2,lineHeight:16,color:'#888'},
 g2:{fontFamily:FF,fontSize:17.6,lineHeight:30,color:'#555'},
 h2:{fontFamily:FF,fontSize:14.2,lineHeight:16,color:'#888'}
};
const chart=echarts.init(document.getElementById('c'),null,{width:3840,height:2436});
chart.setOption({
 animation:false,backgroundColor:'#fff',
 title:{text:tituloPrincipal,left:1856,top:48,textAlign:'center',textStyle:{fontFamily:FF,fontWeight:'bold',fontSize:45.66,color:'#000'}},
 visualMap:{type:'piecewise',show:true,left:3211,top:2026,orient:'vertical',itemWidth:48,itemHeight:15.5,itemGap:12,itemSymbol:'rect',textGap:20,selectedMode:false,hoverLink:false,showLabel:true,align:'left',pieces,outOfRange:{color:'#e0e0e0'},textStyle:{fontFamily:FF,fontSize:25.5,color:'#000'},seriesIndex:0},
 graphic:{elements:els},
 series:[{type:'map',map:'espana',left:0,top:0,width:3840,height:2436,boundingCoords:[[0,0],[3840,-2436]],aspectScale:1,roam:false,silent:true,selectedMode:false,
  itemStyle:{areaColor:'#e0e0e0',borderColor:'#fff',borderWidth:2},
  emphasis:{disabled:true},
  label:{show:true,rich:labelRich,fontFamily:FF,formatter:p=>{
    const i=provincias.indexOf(p.name);
    if(i<0){const small=p.name==='Ceuta'||p.name==='Melilla';return small?`{g2|${p.name}}\n{h2|Sin empresas}`:`{g|${p.name}}\n{h|Sin empresas}`;}
    return `{n|${p.name}}\n{e|Empresas: ${empresas[i]}}\n{r|ρ}{s|rel}{e|: ${fmtRho(rhoRel[i])}}`;
  }},
  data:seriesData}]
});
</script></body></html>
